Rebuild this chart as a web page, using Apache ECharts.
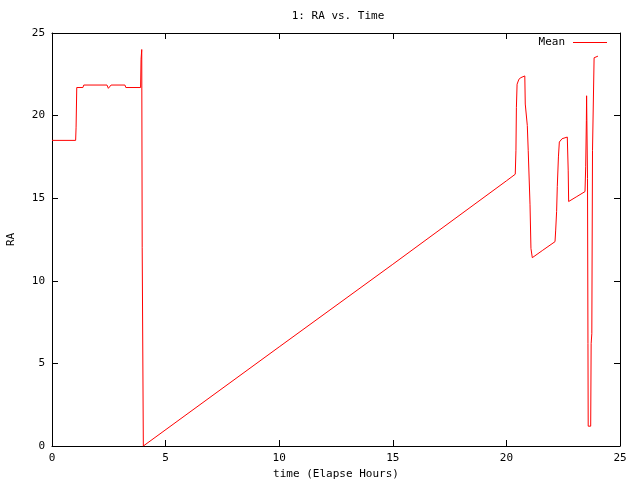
<!DOCTYPE html>
<html><head><meta charset="utf-8">
<script src="https://cdn.jsdelivr.net/npm/echarts@6/dist/echarts.min.js"></script>
<style>html,body{margin:0;padding:0;background:#fff}#c{width:640px;height:480px}</style>
</head><body><div id="c"></div>
<script>
const titleText = "1: RA vs. Time";
const xLabel = "time (Elapse Hours)";
const yLabel = "RA";
const seriesName = "Mean";
const timeHours = [0, 1.04, 1.06, 1.09, 1.36, 1.4, 2.42, 2.48, 2.55, 2.6, 3.21, 3.25, 3.9, 3.92, 3.95, 3.97, 4.02,
  10, 15, 20, 20.39, 20.42, 20.44, 20.47, 20.55, 20.64, 20.81, 20.83, 20.92, 20.96, 21.04, 21.08, 21.14,
  21.6, 22.14, 22.17, 22.21, 22.24, 22.29, 22.33, 22.45, 22.68, 22.72, 22.74, 23.1, 23.46, 23.49, 23.52, 23.53,
  23.57, 23.59, 23.6, 23.71, 23.73, 23.76, 23.79, 23.86, 23.9, 24.03];
const raValues = [18.5, 18.5, 19.3, 21.7, 21.7, 21.85, 21.85, 21.65, 21.65, 21.85, 21.85, 21.7, 21.7, 23.4, 24.0, 12.0, 0,
  6.0, 11.0, 16.05, 16.45, 17.9, 20.5, 21.9, 22.2, 22.3, 22.4, 20.7, 19.4, 17.9, 14.6, 11.96, 11.4,
  11.85, 12.37, 13.07, 14.2, 15.7, 17.5, 18.4, 18.6, 18.7, 16.7, 14.8, 15.1, 15.4, 16.9, 19.7, 21.2,
  16.2, 6.2, 1.2, 1.2, 6.2, 6.8, 17.9, 23.5, 23.5, 23.6];
const xTicks = [0, 5, 10, 15, 20, 25];
const yTicks = [0, 5, 10, 15, 20, 25];

const font = "DejaVu Sans Mono";
const data = timeHours.map((t, i) => [t, raValues[i]]);
const chart = echarts.init(document.getElementById('c'), null, {renderer: 'canvas'});
const axisCommon = {
  min: 0, max: 25, interval: 5,
  axisLine: {show: true, onZero: false, lineStyle: {color: '#000', width: 1}},
  axisTick: {show: true, inside: true, length: 6, lineStyle: {color: '#000'}},
  splitLine: {show: false}
};
chart.setOption({
  animation: false,
  backgroundColor: '#fff',
  title: {text: titleText, left: 333, top: 6, textAlign: 'center',
    textStyle: {fontFamily: font, fontSize: 11, fontWeight: 'normal', color: '#000'}},
  legend: {data: [seriesName], right: 28, top: 32, align: 'right', icon: 'rect', itemWidth: 34, itemHeight: 1,
    itemGap: 8, textStyle: {fontFamily: font, fontSize: 11, color: '#000', padding: [0, 3, 0, 0]}},
  grid: {left: 52, right: 20, top: 33, bottom: 34, containLabel: false, outerBoundsMode: 'none'},
  xAxis: [
    Object.assign({}, axisCommon, {type: 'value', position: 'bottom',
      name: xLabel, nameLocation: 'middle', nameGap: 22,
      nameTextStyle: {fontFamily: font, fontSize: 11, color: '#000'},
      axisLabel: {margin: 7, fontFamily: font, fontSize: 11, color: '#000',
        formatter: v => xTicks.includes(v) ? String(v) : ''}}),
    Object.assign({}, axisCommon, {type: 'value', position: 'top', axisLabel: {show: false}})
  ],
  yAxis: [
    Object.assign({}, axisCommon, {type: 'value', position: 'left',
      name: yLabel, nameLocation: 'middle', nameGap: 35, nameRotate: 90,
      nameTextStyle: {fontFamily: font, fontSize: 11, color: '#000'},
      axisLabel: {margin: 7, fontFamily: font, fontSize: 11, color: '#000',
        formatter: v => yTicks.includes(v) ? String(v) : ''}}),
    Object.assign({}, axisCommon, {type: 'value', position: 'right', axisLabel: {show: false}})
  ],
  series: [{
    name: seriesName, type: 'line', data: data, xAxisIndex: 0, yAxisIndex: 0,
    showSymbol: false, symbol: 'none', smooth: false,
    lineStyle: {color: '#ff0000', width: 1}, itemStyle: {color: '#ff0000'}
  }]
});
</script></body></html>
